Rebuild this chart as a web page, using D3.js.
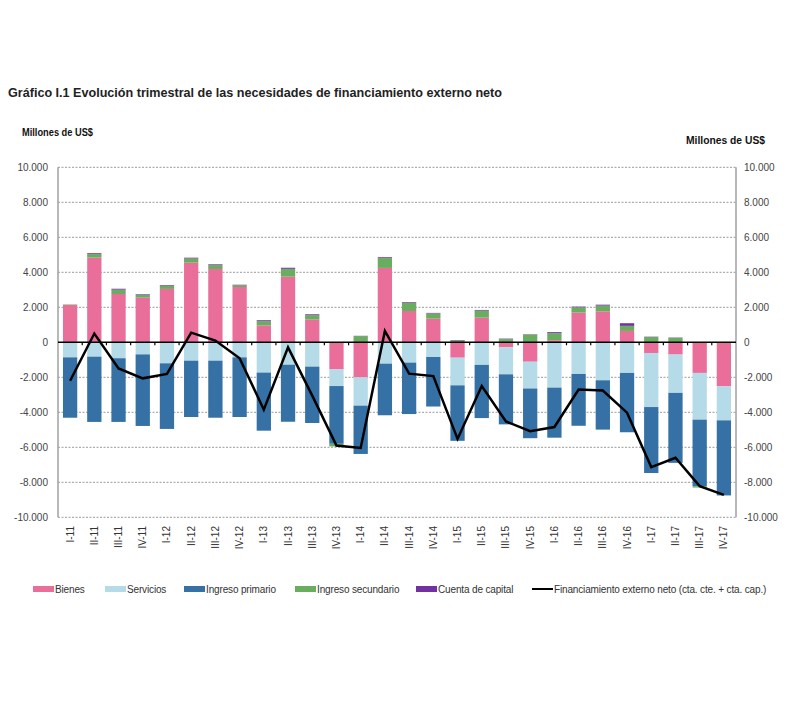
<!DOCTYPE html>
<html>
<head>
<meta charset="utf-8">
<script src="https://cdn.jsdelivr.net/npm/d3@7"></script>
<style>
  body { margin: 0; background: #fff; }
  svg { display: block; font-family: "Liberation Sans", Arial, sans-serif; }
</style>
</head>
<body>
<svg id="chart" width="790" height="709"></svg>
<script>
// Quarters I-11 .. IV-17
const quarters = ['I-11', 'II-11', 'III-11', 'IV-11', 'I-12', 'II-12', 'III-12', 'IV-12',
  'I-13', 'II-13', 'III-13', 'IV-13', 'I-14', 'II-14', 'III-14', 'IV-14',
  'I-15', 'II-15', 'III-15', 'IV-15', 'I-16', 'II-16', 'III-16', 'IV-16',
  'I-17', 'II-17', 'III-17', 'IV-17'];

// Millones de US$
const bienes = [2130, 4840, 2760, 2550, 3050, 4550, 4190, 3160,
  960, 3750, 1300, -1550, -2000, 4250, 1790, 1350,
  -880, 1410, -290, -1110, 120, 1700, 1770, 650,
  -610, -700, -1750, -2520];
const servicios = [-860, -820, -910, -690, -1200, -1050, -1050, -860,
  -1730, -1280, -1390, -950, -1620, -1220, -1160, -840,
  -1580, -1290, -1540, -1530, -2590, -1810, -2170, -1750,
  -3090, -2190, -2670, -1940];
const ingresoPrimario = [-3450, -3730, -3640, -4090, -3750, -3220, -3260, -3410,
  -3320, -3260, -3220, -3300, -2760, -2950, -2940, -2830,
  -3170, -3040, -2860, -2840, -2860, -2960, -2820, -3390,
  -3770, -4000, -3800, -4290];
const ingresoSecundario = [30, 200, 250, 150, 170, 240, 220, 100,
  250, 450, 250, -150, 350, 560, 460, 300,
  100, 400, 180, 440, 400, 300, 330, 290,
  300, 250, -80, 20];
const cuentaCapital = [0, 50, 50, 40, 40, 45, 45, 30,
  50, 60, 50, 0, 20, 50, 40, 30,
  30, 40, 30, 20, 60, 40, 50, 150,
  20, 20, 10, 0];
const financiamientoNeto = [-2200, 500, -1490, -2060, -1810, 550, 100, -910,
  -3850, -290, -3050, -5900, -6040, 650, -1790, -1930,
  -5520, -2500, -4520, -5080, -4840, -2700, -2760, -4020,
  -7130, -6600, -8220, -8720];

const yTicks = [-10000, -8000, -6000, -4000, -2000, 0, 2000, 4000, 6000, 8000, 10000];

const seriesInfo = [
  { key: 'bienes', label: 'Bienes', color: '#EA6E9A', values: bienes },
  { key: 'servicios', label: 'Servicios', color: '#B5DBE8', values: servicios },
  { key: 'primario', label: 'Ingreso primario', color: '#3571A5', values: ingresoPrimario },
  { key: 'secundario', label: 'Ingreso secundario', color: '#68AE5E', values: ingresoSecundario },
  { key: 'capital', label: 'Cuenta de capital', color: '#7230A0', values: cuentaCapital }
];

const rows = quarters.map((q, i) => {
  const r = { q };
  seriesInfo.forEach(s => { r[s.key] = s.values[i]; });
  return r;
});

const svg = d3.select('#chart');
const plot = { left: 58, right: 736, top: 167.3, bottom: 517.3 };

const x = d3.scaleBand()
  .domain(quarters)
  .range([plot.left, plot.right])
  .paddingInner(0.41)
  .paddingOuter(0.205);
const y = d3.scaleLinear()
  .domain([-10000, 10000])
  .range([plot.bottom, plot.top]);

const fmt = d3.formatLocale({ decimal: ',', thousands: '.', grouping: [3], currency: ['', ''], minus: '-' }).format(',d');

// Title
svg.append('text')
  .attr('x', 8).attr('y', 97)
  .attr('font-size', '13px').attr('font-weight', 'bold').attr('fill', '#222')
  .attr('textLength', 494).attr('lengthAdjust', 'spacingAndGlyphs')
  .text('Gráfico I.1 Evolución trimestral de las necesidades de financiamiento externo neto');

svg.append('text')
  .attr('x', 22).attr('y', 136)
  .attr('font-size', '10px').attr('font-weight', 'bold').attr('fill', '#111')
  .attr('textLength', 71).attr('lengthAdjust', 'spacingAndGlyphs')
  .text('Millones de US$');
svg.append('text')
  .attr('x', 686).attr('y', 144)
  .attr('font-size', '10px').attr('font-weight', 'bold').attr('fill', '#111')
  .attr('textLength', 79).attr('lengthAdjust', 'spacingAndGlyphs')
  .text('Millones de US$');

// Gridlines
svg.append('g')
  .selectAll('line')
  .data(yTicks.filter(t => t !== 0))
  .join('line')
  .attr('x1', plot.left).attr('x2', plot.right)
  .attr('y1', d => y(d)).attr('y2', d => y(d))
  .attr('stroke', '#9a9a9a').attr('stroke-width', 1)
  .attr('stroke-dasharray', '2,1.5');

// Axes lines
[plot.left, plot.right].forEach(ax => {
  svg.append('line')
    .attr('x1', ax).attr('x2', ax)
    .attr('y1', y(10000)).attr('y2', y(-10000))
    .attr('stroke', '#a0a0a0').attr('stroke-width', 1.5);
});

// Tick labels
svg.append('g')
  .selectAll('text')
  .data(yTicks)
  .join('text')
  .attr('x', 48).attr('y', d => y(d) + 3.5)
  .attr('text-anchor', 'end')
  .attr('font-size', '10px').attr('fill', '#444')
  .text(d => fmt(d));
svg.append('g')
  .selectAll('text')
  .data(yTicks)
  .join('text')
  .attr('x', 744).attr('y', d => y(d) + 3.5)
  .attr('text-anchor', 'start')
  .attr('font-size', '10px').attr('fill', '#444')
  .text(d => fmt(d));

// Stacked bars
const stack = d3.stack()
  .keys(seriesInfo.map(s => s.key))
  .offset(d3.stackOffsetDiverging);
const stacked = stack(rows);

svg.append('g')
  .selectAll('g')
  .data(stacked)
  .join('g')
  .attr('fill', (d, i) => seriesInfo[i].color)
  .selectAll('rect')
  .data(d => d)
  .join('rect')
  .attr('x', d => x(d.data.q))
  .attr('width', x.bandwidth())
  .attr('y', d => y(Math.max(d[0], d[1])))
  .attr('height', d => Math.abs(y(d[0]) - y(d[1])));

// Zero line with category ticks
svg.append('line')
  .attr('x1', plot.left).attr('x2', plot.right)
  .attr('y1', y(0)).attr('y2', y(0))
  .attr('stroke', '#000').attr('stroke-width', 1.5);
svg.append('g')
  .selectAll('line')
  .data(quarters.slice(1))
  .join('line')
  .attr('x1', d => x(d) - x.step() * x.paddingInner() / 2)
  .attr('x2', d => x(d) - x.step() * x.paddingInner() / 2)
  .attr('y1', y(0)).attr('y2', y(0) + 3)
  .attr('stroke', '#000').attr('stroke-width', 1.2);

// Net financing line
const line = d3.line()
  .x((d, i) => x(quarters[i]) + x.bandwidth() / 2)
  .y(d => y(d));
svg.append('path')
  .datum(financiamientoNeto)
  .attr('d', line)
  .attr('fill', 'none')
  .attr('stroke', '#000')
  .attr('stroke-width', 2.5)
  .attr('stroke-linejoin', 'miter');

// Category labels
svg.append('g')
  .selectAll('text')
  .data(quarters)
  .join('text')
  .attr('transform', d => `translate(${x(d) + x.bandwidth() / 2 + 3.5},526) rotate(-90)`)
  .attr('text-anchor', 'end')
  .attr('font-size', '10px').attr('fill', '#333')
  .text(d => d);

// Legend
const legendItems = [
  { type: 'rect', color: seriesInfo[0].color, label: 'Bienes', x: 33 },
  { type: 'rect', color: seriesInfo[1].color, label: 'Servicios', x: 105 },
  { type: 'rect', color: seriesInfo[2].color, label: 'Ingreso primario', x: 184 },
  { type: 'rect', color: seriesInfo[3].color, label: 'Ingreso secundario', x: 295 },
  { type: 'rect', color: seriesInfo[4].color, label: 'Cuenta de capital', x: 416 },
  { type: 'line', color: '#000', label: 'Financiamiento externo neto (cta. cte. + cta. cap.)', x: 532 }
];
const legend = svg.append('g').attr('transform', 'translate(0,589)');
legendItems.forEach(it => {
  if (it.type === 'rect') {
    legend.append('rect')
      .attr('x', it.x).attr('y', -3).attr('width', 21).attr('height', 6)
      .attr('fill', it.color);
  } else {
    legend.append('line')
      .attr('x1', it.x).attr('x2', it.x + 21)
      .attr('y1', 0).attr('y2', 0)
      .attr('stroke', it.color).attr('stroke-width', 2);
  }
  legend.append('text')
    .attr('x', it.x + 22).attr('y', 3.5)
    .attr('font-size', '10px').attr('fill', '#333')
    .attr('letter-spacing', '-0.15px')
    .text(it.label);
});
</script>
</body>
</html>
